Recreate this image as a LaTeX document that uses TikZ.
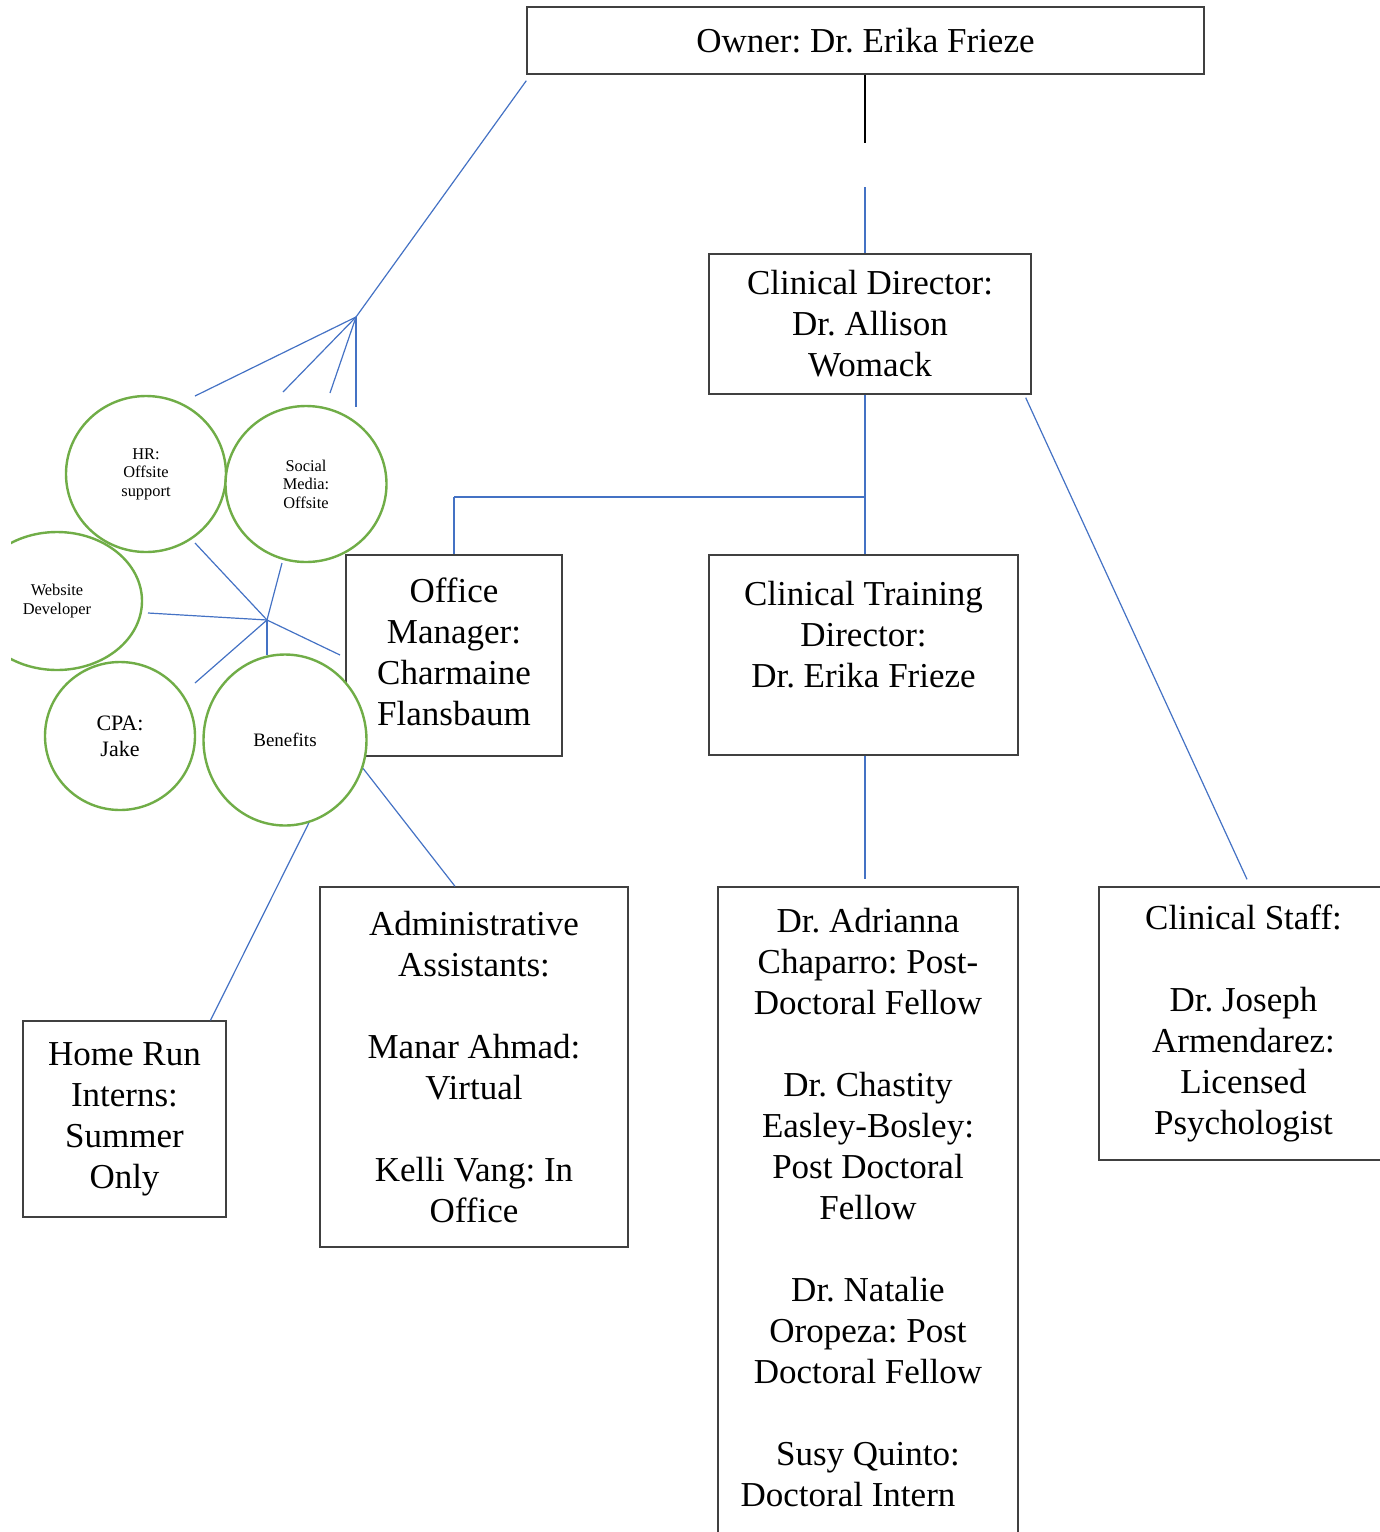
\documentclass[tikz,border=0pt]{standalone}
\usepackage{fontspec}
\setmainfont{Liberation Serif}
\frenchspacing
\usetikzlibrary{shapes.geometric}
\definecolor{lineblue}{HTML}{4472C4}
\definecolor{ringgreen}{HTML}{70AD47}
\tikzset{
	box/.style={rectangle,draw=black!75,line width=0.7pt,align=center,inner sep=0pt,font=\fontsize{17.5}{20.5}\selectfont},
	ring/.style={ellipse,draw=ringgreen,line width=1.2pt,fill=white,align=center,inner sep=0pt,font=\fontsize{8.2}{9.2}\selectfont}
}

\begin{document}
\begin{tikzpicture}[x=0.5pt,y=-0.5pt]
	\useasboundingbox (0,0) rectangle (1380,1532);
	\begin{scope}[every node/.style={box}]
		\node[minimum width=338.5pt,minimum height=33.5pt] (Own) at (865.5,40.5) {Owner: Dr. Erika Frieze};
		\node[minimum width=161pt,minimum height=70pt] (CD) at (870,324) {Clinical Director:\\Dr. Allison\\Womack};
		\node[minimum width=108pt,minimum height=100.5pt] (OM) at (454,655.5) {Office\\Manager:\\Charmaine\\Flansbaum\rule[-4pt]{0pt}{4pt}};
		\node[minimum width=154.5pt,minimum height=100pt] (CTD) at (863.5,655) {Clinical Training\\Director:\\Dr. Erika Frieze\\~};
		\node[minimum width=150pt,minimum height=341pt] (PD) at (868,1228) {Dr. Adrianna\\Chaparro: Post-\\Doctoral Fellow\\[20.5pt]Dr. Chastity\\Easley-Bosley:\\Post Doctoral\\Fellow\\[20.5pt]Dr. Natalie\\Oropeza: Post\\Doctoral Fellow\\[20.5pt]Susy Quinto:\\Doctoral Intern\rule{20pt}{0pt}\\~};
		\node[minimum width=144.5pt,minimum height=136.5pt] (CS) at (1243.5,1023.5) {Clinical Staff:\\[20.5pt]Dr. Joseph\\Armendarez:\\Licensed\\Psychologist};
		\node[minimum width=154pt,minimum height=180pt] (AA) at (474,1067) {Administrative\\Assistants:\\[20.5pt]Manar Ahmad:\\Virtual\\[20.5pt]Kelli Vang: In\\Office};
		\node[minimum width=101.5pt,minimum height=98pt] (HRI) at (124.5,1119) {Home Run\\Interns:\\Summer\\Only};
	\end{scope}
	
	\begin{scope}[every node/.style={ring}]
		\node[minimum width=80pt,minimum height=78pt] (HR) at (146,474) {HR:\\Offsite\\support};
		\node[minimum width=80.5pt,minimum height=78pt] (SM) at (306,484) {Social\\Media:\\Offsite};
		\begin{scope}
			\clip (11,0) rectangle (1380,1532);
			\node[minimum width=85pt,minimum height=69pt] (WD) at (57,601) {Website\\Developer};
		\end{scope}
		\node[minimum width=75pt,minimum height=74pt,font=\fontsize{11}{13}\selectfont] (CPA) at (120,736) {CPA:\\Jake};
		\node[minimum width=81.5pt,minimum height=85.5pt,font=\fontsize{9.5}{11}\selectfont] (Ben) at (285,740) {Benefits};
	\end{scope}
	
	\coordinate (GapT) at (865,143);
	\coordinate (GapB) at (865,187);
	\coordinate (Jn) at (865,497);
	\coordinate (Fan) at (356,317);
	\coordinate (Hub) at (267,620);
	\foreach \n/\x/\y in {f1/195/396,f2/283/392,f3/330/393,f4/356/407,h1/195/543,h2/282/563,h3/148/613,h4/195/683,h5/267/655,h6/340/655}
		\coordinate (\n) at (\x,\y);
	
	\draw[black,line width=0.6pt] (Own.south -| GapT) -- (GapT);
	\begin{scope}[every edge/.style={draw=lineblue,line width=0.6pt}]
		\path (GapB) edge (GapB |- CD.north);
		\path (CD.south -| Jn) edge (CTD.north -| Jn);
		\path (Jn) edge (Jn -| OM.north) (Jn -| OM.north) edge (OM.north);
		\path [shorten >=3.5pt] (CTD.south -| Jn) edge (PD.north -| Jn);
		\path ([xshift=-3pt,yshift=-1.5pt]CD.south east) edge ([xshift=1.75pt,yshift=3.5pt]CS.north);
		\path (Ben.-20) edge ([xshift=-9.5pt]AA.north);
		\path (Ben.-74) edge ([xshift=43pt]HRI.north);
		\path ([yshift=-3pt]Own.south west) edge (Fan);
		\foreach \n in {f1,f2,f3,f4}
			\path (Fan) edge (\n);
		\foreach \n in {h1,h2,h3,h4,h5,h6}
			\path (Hub) edge (\n);
	\end{scope}
\end{tikzpicture}
\end{document}
